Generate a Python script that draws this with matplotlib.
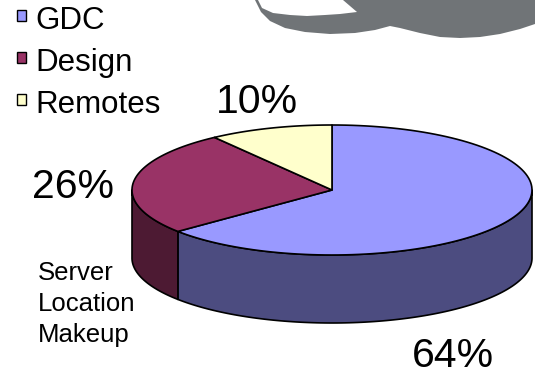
import numpy as np
import matplotlib
matplotlib.use("Agg")
import matplotlib.pyplot as plt
from matplotlib.patches import Polygon, Rectangle

# ---- data ----
categories = ["GDC", "Design", "Remotes"]
shares = [64, 26, 10]
top_colors = ["#9999FF", "#993366", "#FFFFCC"]
side_colors = ["#4C4C80", "#4D1A33", "#80806A"]
caption_lines = ["Server", "Location", "Makeup"]

plt.rcParams["font.family"] = ["Liberation Sans", "DejaVu Sans"]

W, H = 535, 374
fig = plt.figure(figsize=(W / 100, H / 100), dpi=100)
ax = fig.add_axes([0, 0, 1, 1])
ax.set_xlim(0, W)
ax.set_ylim(H, 0)
ax.axis("off")

# decorative gray swoosh (slide background piece, top right)
swoosh = [
    (343, 0), (535, 0), (535, 24), (520, 29), (500, 34), (480, 37), (460, 38),
    (440, 37), (420, 33), (400, 28), (390, 26), (375, 30), (355, 33),
    (330, 34), (305, 32), (285, 28), (270, 21), (261, 12), (255, 0),
    (258, 0), (262, 8), (273, 13), (290, 15), (307, 16), (325, 15),
    (340, 14), (357, 12),
]
ax.add_patch(Polygon(swoosh, closed=True, fc="#707477", ec="none", zorder=1))

# ---- 3D pie geometry (pixel space) ----
cx, cy, rx, ry, depth = 332, 190, 200, 65, 68


def rim(a0, a1, dy=0.0, n=120):
    t = np.radians(np.linspace(a0, a1, n))
    return np.column_stack([cx + rx * np.cos(t), cy - ry * np.sin(t) + dy])


fracs = np.array(shares, dtype=float) / sum(shares)
starts = 90 - 360 * np.concatenate([[0], np.cumsum(fracs)[:-1]])
ends = starts - 360 * fracs

# sides (front half only: angles in [-180, 0])
for a_s, a_e, col in zip(starts, ends, side_colors):
    lo, hi = max(a_e, -180), min(a_s, 0)
    if hi <= lo:
        continue
    pts = np.vstack([rim(lo, hi), rim(hi, lo, dy=depth)])
    ax.add_patch(Polygon(pts, closed=True, fc=col, ec="black", lw=1.2,
                         joinstyle="round", zorder=2))

# top faces
for a_s, a_e, col in zip(starts, ends, top_colors):
    pts = np.vstack([[cx, cy], rim(a_s, a_e)])
    ax.add_patch(Polygon(pts, closed=True, fc=col, ec="black", lw=1.2,
                         joinstyle="round", zorder=3))

# ---- percent labels ----
label_pos = [(453, 367), (73, 198), (257, 113)]
for v, (x, y) in zip(shares, label_pos):
    ax.text(x, y, f"{v}%", fontsize=29.5, ha="center", va="baseline", zorder=4)

# ---- legend ----
for i, (name, col) in enumerate(zip(categories, top_colors)):
    y0 = 10 + 42 * i
    ax.add_patch(Rectangle((17, y0), 8.5, 11, fc=col, ec="black", lw=1.0, zorder=4))
    ax.text(35, y0 + 18.5, name, fontsize=22.5, ha="left", va="baseline", zorder=4)

# ---- caption ----
for i, line in enumerate(caption_lines):
    ax.text(38, 280 + 31 * i, line, fontsize=18.5, ha="left", va="baseline", zorder=4)

fig.savefig("out.png", dpi=100)
